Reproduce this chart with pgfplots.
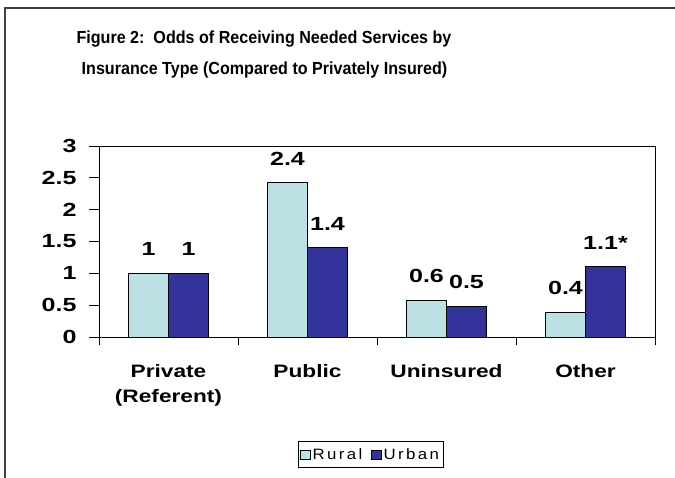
\documentclass[border=0pt]{standalone}
\usepackage{pgfplots}
\usepackage{pgfplotstable}
\pgfplotsset{compat=1.18}
\usepackage{fontspec}
\setmainfont{Liberation Sans}
\newfontfamily\numfont{Liberation Sans}[FakeStretch=1.32]
\newfontfamily\catfont{Liberation Sans}[FakeStretch=1.26]
\newfontfamily\titlefont{Liberation Sans}[FakeStretch=0.92]
\newfontfamily\legfont{Liberation Sans}[FakeStretch=1.12,LetterSpace=16]
\definecolor{ruralc}{RGB}{187,225,228}
\definecolor{urbanc}{RGB}{51,51,153}

\pgfplotstableread{
x y lab
0 1 1
1 2.42 2.4
2 0.58 0.6
3 0.39 0.4
}\ruraltab

\pgfplotstableread{
x y lab
0 1 1
1 1.4 1.4
2 0.48 0.5
3 1.1 1.1*
}\urbantab

\begin{document}
\begin{tikzpicture}[x=1pt,y=1pt]
\useasboundingbox (0,0) rectangle (675,477);
\draw[line width=2pt, black!75] (5,-2) -- (5,469) -- (678,469);
\node[anchor=base, inner sep=0pt, font=\titlefont\bfseries\fontsize{17.5}{20}\selectfont] at (264,433.7) {Figure 2:\ \ Odds of Receiving Needed Services by};
\node[anchor=base, inner sep=0pt, font=\titlefont\bfseries\fontsize{17.5}{20}\selectfont] at (264.5,402) {Insurance Type (Compared to Privately Insured)};
\begin{axis}[
  at={(99pt,140pt)}, anchor=south west,
  width=556pt, height=191pt, scale only axis,
  xmin=-0.5, xmax=3.5, ymin=0, ymax=3,
  ytick={0,0.5,1,1.5,2,2.5,3},
  yticklabels={0,0.5,1,1.5,2,2.5,3},
  xtick={0,1,2,3},
  xticklabels={{Private\\(Referent)},Public,Uninsured,Other},
  minor xtick={-0.5,0.5,1.5,2.5,3.5},
  tick align=outside, tick pos=left,
  major tick length=10pt, minor tick length=8pt,
  every major x tick/.append style={draw=none},
  every tick/.append style={black, line width=1pt},
  axis line style={line width=1pt},
  /pgf/number format/assume math mode=true,
  yticklabel style={font=\numfont\bfseries\fontsize{19}{20}\selectfont, xshift=-9pt},
  xticklabel style={font=\catfont\bfseries\fontsize{18}{25}\selectfont, align=center, yshift=-14pt},
  ybar=0pt, bar width=40pt,
  legend style={at={(0.4887,-0.615)}, anchor=center, draw=black, line width=1pt,
    legend columns=2, font=\legfont\fontsize{15}{17}\selectfont, inner xsep=2pt, inner ysep=5pt,
    /tikz/every even column/.append style={column sep=7pt}},
  legend image code/.code={\draw[#1, line width=0.8pt] (0pt,-4.5pt) rectangle (9.5pt,4.5pt);},
  nodes near coords,
  point meta=explicit symbolic,
  nodes near coords style={font=\numfont\bfseries\fontsize{19}{20}\selectfont, anchor=south, inner sep=0pt, yshift=17pt, text=black},
]
\addplot[fill=ruralc, draw=black, line width=1pt] table[x=x,y=y,meta=lab]{\ruraltab};
\addplot[fill=urbanc, draw=black, line width=1pt] table[x=x,y=y,meta=lab]{\urbantab};
\legend{Rural,Urban}
\end{axis}
\end{tikzpicture}
\end{document}
